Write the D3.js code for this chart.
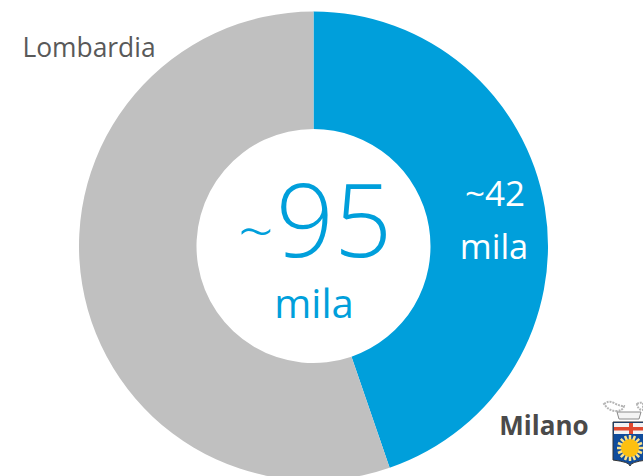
<!DOCTYPE html>
<html><head><meta charset="utf-8">
<script src="https://cdn.jsdelivr.net/npm/d3@7/dist/d3.min.js"></script>
<style>html,body{margin:0;padding:0;background:#fff;overflow:hidden}svg{display:block}text{font-family:"Open Sans",sans-serif}</style>
</head><body><div id="c"></div>
<script>
const categories=["Milano","Lombardia"];
const values=[42.5,52.5];
const colors=["#009fdb","#c0c0c0"];
const sunRays=d3.range(16);
const svg=d3.select("#c").append("svg").attr("width",643).attr("height",476);
const g=svg.append("g").attr("transform","translate(313.5,246)");
const pie=d3.pie().sort(null)(values);
const arc=d3.arc().innerRadius(117).outerRadius(234.5);
g.selectAll("path").data(pie).join("path").attr("d",arc).attr("fill",(d,i)=>colors[i]);
function t(s,x,y,size,fill,weight){return svg.append("text").text(s).attr("x",x).attr("y",y).attr("font-size",size).attr("fill",fill).attr("font-weight",weight||400).attr("text-anchor","middle");}
t("Lombardia",89,57,26.4,"#595959",400);
t("~",256,254,62,"#009fdb",300);
t("95",334,257,102,"#009fdb",300);
t("mila",314,318,40,"#009fdb",400);
t("~42",495,206,35,"#fff",400);
t("mila",494,259,34.5,"#fff",400);
t("Milano",544,435,26,"#4a4a4a",700);
// Milano crest
const crest=svg.append("g");
crest.append("path").attr("d","M604 404q5-4 10-1t10 3q-1 5-8 5t-12-7z").attr("fill","none").attr("stroke","#b5b5b5").attr("stroke-width",2).attr("stroke-dasharray","2 1");
crest.append("path").attr("d","M637 404q3-2 6-1v7q-5 0-6-6z").attr("fill","none").attr("stroke","#b5b5b5").attr("stroke-width",2).attr("stroke-dasharray","2 1");
crest.append("path").attr("d","M617 412h24l-2 7h-20z").attr("fill","#f4f4f4").attr("stroke","#8a8a8a").attr("stroke-width",1);
crest.append("path").attr("d","M613 422h34v38q-17 2-17 6q0-4-17-6z").attr("fill","#0f4c9c").attr("stroke","#333").attr("stroke-width",1);
crest.append("rect").attr("x",614).attr("y",423).attr("width",33).attr("height",11).attr("fill","#f3f3f3");
crest.append("rect").attr("x",614).attr("y",427).attr("width",33).attr("height",3.5).attr("fill","#e0492f");
crest.append("rect").attr("x",629).attr("y",423).attr("width",4).attr("height",11).attr("fill","#e0492f");
crest.selectAll(".ray").data(sunRays).join("line").attr("class","ray")
 .attr("x1",630).attr("y1",448)
 .attr("x2",d=>630+13*Math.cos(d/16*2*Math.PI)).attr("y2",d=>448+13*Math.sin(d/16*2*Math.PI))
 .attr("stroke","#fbe28a").attr("stroke-width",2.5);
crest.append("circle").attr("cx",630).attr("cy",448).attr("r",9).attr("fill","#fdc010");
</script></body></html>
